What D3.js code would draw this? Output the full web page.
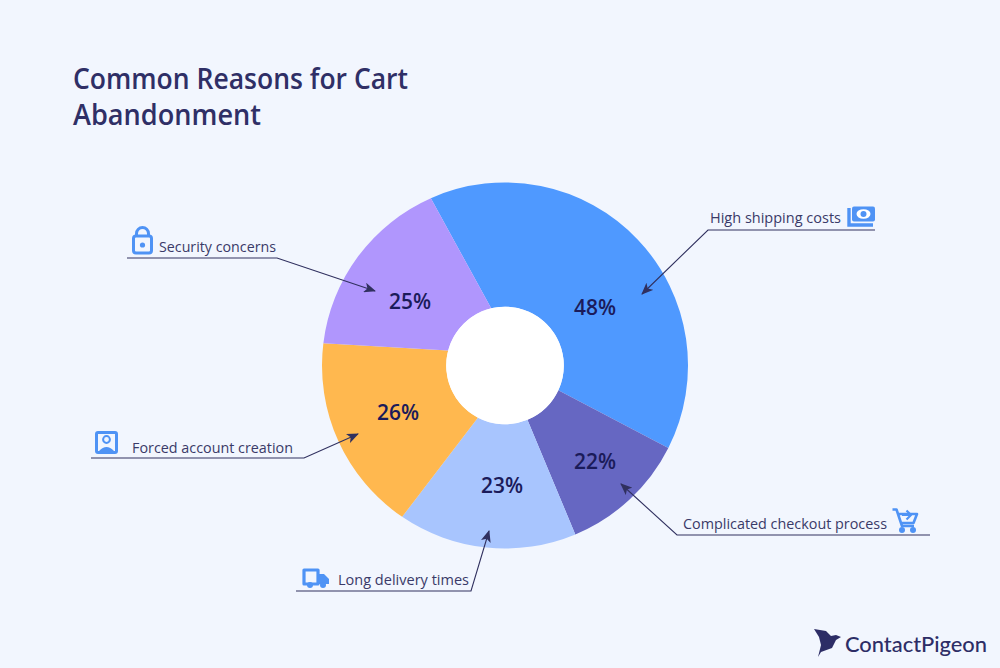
<!DOCTYPE html>
<html><head><meta charset="utf-8">
<script src="https://cdn.jsdelivr.net/npm/d3@7"></script>
<style>html,body{margin:0;padding:0;background:#f2f6fe}svg{display:block}text{font-family:"Open Sans",sans-serif}</style>
</head><body><svg id="c" width="1000" height="668"></svg>
<script>
const categories=["High shipping costs","Complicated checkout process","Long delivery times","Forced account creation","Security concerns"];
const percentLabels=[48,22,23,26,25];
// angular sizes of each slice as drawn (degrees), on the outer rim and at the hole
const outerShares=[140.7,40.6,56.8,62.8,59.1];
const innerShares=[128.5,42.7,49.9,77.4,61.5];
const sliceColors=["#4f99ff","#6667c2","#a8c5fe","#ffb84f","#b096fd"];
const titleLines=["Common Reasons for Cart","Abandonment"];

const W=1000,H=668,cx=505,cy=365.5,R=183,r=58.8;
const ink="#30305f",pctInk="#1b1b5a",iconBlue="#4f93f5";
const svg=d3.select("#c");
svg.append("rect").attr("width",W).attr("height",H).attr("fill","#f2f6fe");
titleLines.forEach((t,i)=>svg.append("text").attr("x",73).attr("y",89+i*36).attr("font-size",29).attr("font-weight",600).attr("fill","#2f2f66").attr("textLength",i?188:335).attr("lengthAdjust","spacingAndGlyphs").text(t));

const rad=d=>d*Math.PI/180;
const pieFrom=(start)=>d3.pie().sort(null).value(d=>d).startAngle(rad(start)).endAngle(rad(start+360));
const outer=pieFrom(-23.9)(outerShares), inner=pieFrom(-13.6)(innerShares);
const pt=(rr,a)=>[rr*Math.sin(a),-rr*Math.cos(a)];
const g=svg.append("g").attr("transform",`translate(${cx},${cy})`);
g.selectAll("path").data(categories).join("path")
 .attr("fill",(d,i)=>sliceColors[i])
 .attr("d",(d,i)=>{
   const o=outer[i],n=inner[i],p=d3.path();
   const s=pt(R,o.startAngle);
   p.moveTo(s[0],s[1]);
   p.arc(0,0,R,o.startAngle-Math.PI/2,o.endAngle-Math.PI/2,false);
   const e=pt(r,n.endAngle);p.lineTo(e[0],e[1]);
   p.arc(0,0,r,n.endAngle-Math.PI/2,n.startAngle-Math.PI/2,true);
   p.closePath();return p.toString();
 });
g.append("circle").attr("r",r).attr("fill","#ffffff");

const pctPos=[[595,307],[595,461],[502,485],[398,412],[410,301]];
svg.selectAll("text.p").data(percentLabels).join("text").attr("class","p")
 .attr("x",(d,i)=>pctPos[i][0]).attr("y",(d,i)=>pctPos[i][1]).attr("dy","0.36em")
 .attr("text-anchor","middle").attr("font-size",21).attr("font-weight",600).attr("fill",pctInk)
 .attr("textLength",42).attr("lengthAdjust","spacingAndGlyphs").text(d=>d+"%");

// callouts
const defs=svg.append("defs");
defs.append("marker").attr("id","ah").attr("viewBox","0 0 12 10").attr("refX",11).attr("refY",5)
 .attr("markerWidth",12).attr("markerHeight",10).attr("markerUnits","userSpaceOnUse").attr("orient","auto")
 .append("path").attr("d","M0,0L12,5L0,10L3,5Z").attr("fill",ink);
const leaders=[
 [[875,230],[708,230],[642,294]],
 [[930,535],[677,535],[621,484]],
 [[296,591],[471,591],[489,531]],
 [[91,458],[304,458],[358,434]],
 [[127,258],[277,258],[375,291]]];
const lab=[[710,223,131],[683,529,204],[338,585,131],[132,453,161],[159,252,117]];
const line=d3.line();
svg.selectAll("path.l").data(leaders).join("path").attr("class","l").attr("d",line).attr("fill","none")
 .attr("stroke",ink).attr("stroke-width",1.1).attr("marker-end","url(#ah)");
svg.selectAll("text.c").data(categories).join("text").attr("class","c")
 .attr("x",(d,i)=>lab[i][0]).attr("y",(d,i)=>lab[i][1]).attr("font-size",15).attr("fill","#3a3a68")
 .attr("textLength",(d,i)=>lab[i][2]).attr("lengthAdjust","spacingAndGlyphs").text(d=>d);

// icons
const ic=svg.append("g");
// money
const m=ic.append("g");
m.append("path").attr("d","M849,208V225H873").attr("fill","none").attr("stroke",iconBlue).attr("stroke-width",3.4);
m.append("rect").attr("x",852).attr("y",206.5).attr("width",23).attr("height",15).attr("rx",2).attr("fill",iconBlue);
m.append("ellipse").attr("cx",863.5).attr("cy",214).attr("rx",7).attr("ry",4.8).attr("fill","#fff");
m.append("circle").attr("cx",863.5).attr("cy",214).attr("r",3).attr("fill",iconBlue);
// cart
const c=ic.append("g").attr("fill","none").attr("stroke",iconBlue).attr("stroke-width",2.6).attr("stroke-linejoin","round");
c.append("path").attr("d","M892.5,509.5H896.5L902,526H914M898.5,514H917L913.5,523H901.5");
c.append("path").attr("d","M902,515H910.5M906.5,510.5L911,515L906.5,519.5").attr("stroke-width",2.2);
ic.append("circle").attr("cx",902).attr("cy",530).attr("r",3).attr("fill",iconBlue);
ic.append("circle").attr("cx",913).attr("cy",530).attr("r",3).attr("fill",iconBlue);
// lock
ic.append("path").attr("d","M136.5,236V233.5a6,6 0 0 1 12,0V236").attr("fill","none").attr("stroke",iconBlue).attr("stroke-width",3);
ic.append("rect").attr("x",133.5).attr("y",236).attr("width",18).attr("height",17).attr("rx",2.5).attr("fill","none").attr("stroke",iconBlue).attr("stroke-width",3);
ic.append("circle").attr("cx",142.5).attr("cy",245).attr("r",2.6).attr("fill",iconBlue);
// person
ic.append("rect").attr("x",96.5).attr("y",432.5).attr("width",20).attr("height",20).attr("rx",1.5).attr("fill","none").attr("stroke",iconBlue).attr("stroke-width",3);
ic.append("circle").attr("cx",106.5).attr("cy",439.5).attr("r",3.4).attr("fill","none").attr("stroke",iconBlue).attr("stroke-width",2);
ic.append("path").attr("d","M99,451Q106.5,443 114,451Z").attr("fill",iconBlue);
// truck
ic.append("path").attr("d","M304,570H318V584H304Z").attr("fill","none").attr("stroke",iconBlue).attr("stroke-width",3.2).attr("stroke-linejoin","round");
ic.append("path").attr("d","M318,574H324L329,579V584H318Z").attr("fill",iconBlue);
ic.append("circle").attr("cx",310).attr("cy",585).attr("r",3).attr("fill",iconBlue);
ic.append("circle").attr("cx",323).attr("cy",585).attr("r",3).attr("fill",iconBlue);
// logo
ic.append("path").attr("d","M814,629L826,631L831,636L836,635L841,637L836,640L832,648L821,652L818,657L821,645L819,637Z").attr("fill","#2d2d66");
svg.append("text").attr("x",845).attr("y",652).attr("font-size",21).attr("font-weight",500).attr("fill","#2d2d66")
 .attr("style","font-family:Lato,sans-serif").attr("textLength",142).attr("lengthAdjust","spacingAndGlyphs").text("ContactPigeon");
</script></body></html>
